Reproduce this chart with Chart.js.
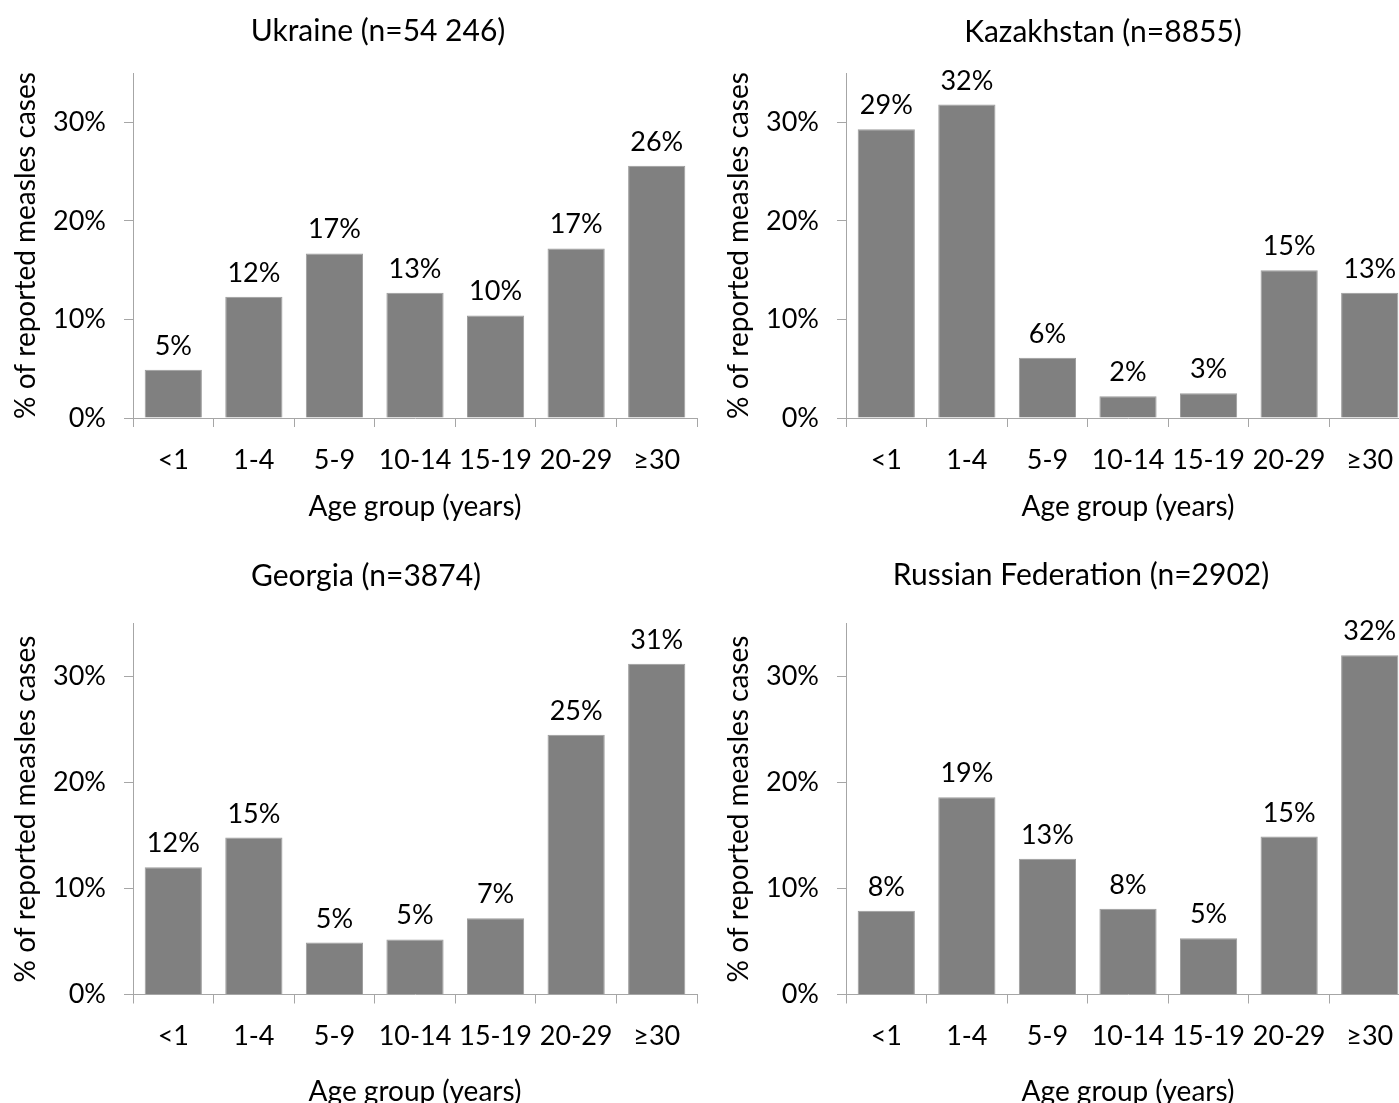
<!DOCTYPE html>
<html>
<head>
<meta charset="utf-8">
<script src="https://cdn.jsdelivr.net/npm/chart.js@4.4.1/dist/chart.umd.min.js"></script>
<style>
  html, body { margin: 0; padding: 0; background: #ffffff; overflow: hidden; width: 1399px; height: 1103px; }
  canvas { position: absolute; }
</style>
</head>
<body>
<canvas id="c1"></canvas>
<canvas id="c2"></canvas>
<canvas id="c3"></canvas>
<canvas id="c4"></canvas>
<script>
// ---- data ----
const ageGroups = ['<1', '1-4', '5-9', '10-14', '15-19', '20-29', '≥30'];
const ukraine    = [4.9, 12.3, 16.7, 12.7, 10.4, 17.2, 25.6];
const kazakhstan = [29.3, 31.8, 6.1, 2.2, 2.5, 15.0, 12.7];
const georgia    = [12.0, 14.8, 4.9, 5.2, 7.2, 24.5, 31.2];
const russia     = [7.9, 18.6, 12.8, 8.1, 5.3, 14.9, 32.0];
const yTickValues = [0, 10, 20, 30];
const titles = ['Ukraine (n=54 246)', 'Kazakhstan (n=8855)', 'Georgia (n=3874)', 'Russian Federation (n=2902)'];
const yTitle = '% of reported measles cases';
const xTitle = 'Age group (years)';

// ---- styling / layout ----
const FONT = 'Lato, "Open Sans", sans-serif';
const TICK_SIZE = 27;
const AXIS_TITLE_SIZE = 28;
const TITLE_SIZE = 30;
const AXIS_COLOR = '#a6a6a6';
const BAR_COLOR = '#808080';

const valueLabels = {
  id: 'valueLabels',
  afterDatasetsDraw(chart) {
    const ctx = chart.ctx;
    ctx.save();
    ctx.font = TICK_SIZE + 'px ' + FONT;
    ctx.fillStyle = '#000';
    ctx.textAlign = 'center';
    ctx.textBaseline = 'alphabetic';
    const meta = chart.getDatasetMeta(0);
    const data = chart.data.datasets[0].data;
    meta.data.forEach((bar, i) => {
      ctx.fillText(Math.round(data[i]) + '%', bar.x, bar.y - 15);
    });
    ctx.restore();
  }
};

function makeChart(id, values, title, L) {
  const cv = document.getElementById(id);
  cv.width = L.w; cv.height = L.h;
  cv.style.left = L.x + 'px'; cv.style.top = L.y + 'px';
  cv.style.width = L.w + 'px'; cv.style.height = L.h + 'px';
  const titleLH = TITLE_SIZE * 1.2;
  const tickLH = TICK_SIZE * 1.2;
  const axTitleLH = AXIS_TITLE_SIZE * 1.2;
  const tPadTop = L.titleCY - L.y - titleLH / 2;
  const tPadBottom = L.plotTop - L.y - tPadTop - titleLH;
  const xTickPad = L.xLabelCY - L.plotBottom - 9 - tickLH / 2;
  const rightSpace = L.x + L.w - L.plotRight;
  return new Chart(cv, {
    type: 'bar',
    data: {
      labels: ageGroups,
      datasets: [{
        data: values,
        backgroundColor: BAR_COLOR,
        borderColor: '#9c9c9c',
        borderWidth: 1,
        barPercentage: 0.71,
        categoryPercentage: 1.0
      }]
    },
    options: {
      responsive: false,
      animation: false,
      devicePixelRatio: 1,
      layout: { padding: 0 },
      plugins: {
        legend: { display: false },
        tooltip: { enabled: false },
        title: {
          display: true,
          text: title,
          color: '#000',
          font: { family: FONT, size: TITLE_SIZE, weight: 'normal', lineHeight: 1.2 },
          padding: { top: tPadTop, bottom: tPadBottom }
        }
      },
      scales: {
        x: {
          type: 'category',
          offset: true,
          grid: { display: true, drawOnChartArea: false, drawTicks: true, tickLength: 9, color: AXIS_COLOR, offset: true },
          border: { display: true, color: AXIS_COLOR, width: 1 },
          ticks: { color: '#000', padding: xTickPad, maxRotation: 0, autoSkip: false, font: { family: FONT, size: TICK_SIZE, lineHeight: 1.2 } },
          title: {
            display: true, text: xTitle, color: '#000',
            font: { family: FONT, size: AXIS_TITLE_SIZE, lineHeight: 1.2 },
            padding: { top: 0, bottom: L.y + L.h - L.xTitleCY - axTitleLH / 2 }
          },
          afterFit(scale) { scale.height = L.y + L.h - L.plotBottom; }
        },
        y: {
          min: 0, max: 35,
          grid: { display: true, drawOnChartArea: false, drawTicks: true, tickLength: 9, color: AXIS_COLOR },
          border: { display: true, color: AXIS_COLOR, width: 1 },
          ticks: {
            color: '#000', padding: 18, stepSize: 10,
            font: { family: FONT, size: TICK_SIZE, lineHeight: 1.2 },
            callback: (v) => v + '%'
          },
          afterBuildTicks(scale) { scale.ticks = yTickValues.map(v => ({ value: v })); },
          title: {
            display: true, text: yTitle, color: '#000',
            font: { family: FONT, size: AXIS_TITLE_SIZE, lineHeight: 1.2 },
            padding: { top: L.yTitleCX - L.x - axTitleLH / 2, bottom: 0 }
          },
          afterFit(scale) { scale.width = L.plotLeft - L.x; }
        },
        // empty spacer on the right so the chart title centres on the whole panel
        spacer: {
          type: 'linear',
          position: 'right',
          display: true,
          min: 0, max: 35,
          grid: { display: false, drawTicks: false },
          border: { display: false },
          ticks: { display: false },
          title: { display: false },
          afterFit(scale) { scale.width = rightSpace; }
        }
      }
    },
    plugins: [valueLabels]
  });
}

const layouts = [
  { x: 0,   y: 0,   w: 756, h: 540, plotLeft: 133, plotRight: 697,  plotTop: 73,    plotBottom: 418,   titleCY: 31,  xLabelCY: 460,  xTitleCY: 507,  yTitleCX: 26 },
  { x: 713, y: 0,   w: 780, h: 540, plotLeft: 846, plotRight: 1410, plotTop: 73,    plotBottom: 418,   titleCY: 32,  xLabelCY: 460,  xTitleCY: 507,  yTitleCX: 739 },
  { x: 0,   y: 548, w: 732, h: 575, plotLeft: 133, plotRight: 697,  plotTop: 623.5, plotBottom: 994.5, titleCY: 576, xLabelCY: 1036, xTitleCY: 1092, yTitleCX: 26 },
  { x: 713, y: 548, w: 736, h: 575, plotLeft: 846, plotRight: 1410, plotTop: 623.5, plotBottom: 994.5, titleCY: 575, xLabelCY: 1036, xTitleCY: 1092, yTitleCX: 739 }
];

makeChart('c1', ukraine, titles[0], layouts[0]);
makeChart('c2', kazakhstan, titles[1], layouts[1]);
makeChart('c3', georgia, titles[2], layouts[2]);
makeChart('c4', russia, titles[3], layouts[3]);
</script>
</body>
</html>
